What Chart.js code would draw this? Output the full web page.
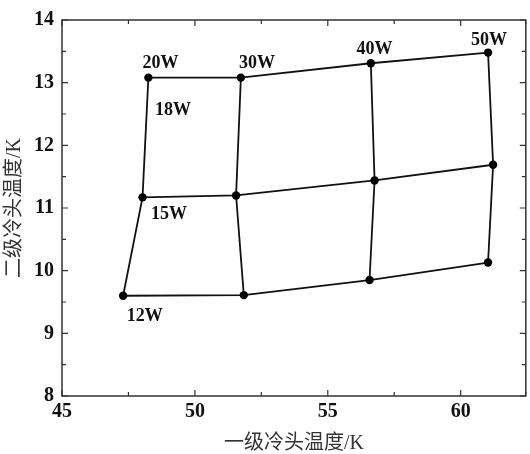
<!DOCTYPE html>
<html>
<head>
<meta charset="utf-8">
<script src="https://cdn.jsdelivr.net/npm/chart.js@4.4.1/dist/chart.umd.min.js"></script>
<style>
  html, body { margin: 0; padding: 0; background: #fff; }
  #wrap { width: 530px; height: 454px; }
</style>
</head>
<body>
<div id="wrap"><canvas id="tempChart" width="530" height="454"></canvas></div>
<script>
// measured points, three rows of four (first-stage temp x, second-stage temp y)
const rowTopX = [48.25, 51.73, 56.62, 61.03];
const rowTopY = [13.08, 13.08, 13.31, 13.48];
const rowMidX = [48.03, 51.55, 56.76, 61.22];
const rowMidY = [11.17, 11.20, 11.44, 11.69];
const rowLowX = [47.30, 51.84, 56.57, 61.03];
const rowLowY = [9.60, 9.61, 9.85, 10.13];

// power labels and where they sit (data units)
const powerLabels = ['20W', '30W', '40W', '50W', '18W', '15W', '12W'];
const labelX = [48.71, 52.34, 56.76, 61.07, 49.18, 49.03, 48.11];
const labelY = [13.31, 13.31, 13.53, 13.67, 12.56, 10.90, 9.27];

const xTicks = [45, 50, 55, 60];
const yTicks = [8, 9, 10, 11, 12, 13, 14];

const serif = '"Liberation Serif", "Times New Roman", serif';
const cjk = '"Liberation Serif", "Noto Sans CJK SC", serif';

function toPoints(xs, ys) {
    return xs.map(function(x, i) { return { x: x, y: ys[i] }; });
}

const rows = [toPoints(rowTopX, rowTopY), toPoints(rowMidX, rowMidY), toPoints(rowLowX, rowLowY)];
const datasets = [];
rows.forEach(function(r) {
    datasets.push({
        data: r,
        borderColor: '#111',
        backgroundColor: '#000',
        borderWidth: 1.8,
        pointRadius: 4.2,
        pointBorderWidth: 0,
        showLine: true,
        tension: 0
    });
});
// columns, bottom to top
for (let c = 0; c < 4; c++) {
    datasets.push({
        data: [rows[2][c], rows[1][c], rows[0][c]],
        borderColor: '#111',
        borderWidth: 1.8,
        pointRadius: 0,
        showLine: true,
        tension: 0
    });
}

// frame, inward ticks on all sides, and point labels
const framePlugin = {
    id: 'frame',
    afterDraw: function(chart) {
        const ctx = chart.ctx;
        const a = chart.chartArea;
        const xs = chart.scales.x, ys = chart.scales.y;
        ctx.save();
        ctx.strokeStyle = '#333';
        ctx.lineWidth = 1.5;
        ctx.strokeRect(a.left, a.top, a.right - a.left, a.bottom - a.top);
        ctx.lineWidth = 1.2;
        ctx.beginPath();
        xs.ticks.forEach(function(t) {
            const px = xs.getPixelForValue(t.value);
            const len = xTicks.includes(t.value) ? 6 : 4;
            ctx.moveTo(px, a.bottom); ctx.lineTo(px, a.bottom - len);
            ctx.moveTo(px, a.top); ctx.lineTo(px, a.top + len);
        });
        ys.ticks.forEach(function(t) {
            const py = ys.getPixelForValue(t.value);
            const len = yTicks.includes(t.value) ? 6 : 4;
            ctx.moveTo(a.left, py); ctx.lineTo(a.left + len, py);
            ctx.moveTo(a.right, py); ctx.lineTo(a.right - len, py);
        });
        ctx.stroke();

        ctx.fillStyle = '#111';
        ctx.font = 'bold 18px ' + serif;
        ctx.textAlign = 'center';
        ctx.textBaseline = 'middle';
        powerLabels.forEach(function(txt, i) {
            ctx.fillText(txt, xs.getPixelForValue(labelX[i]), ys.getPixelForValue(labelY[i]));
        });
        ctx.restore();
    }
};

new Chart(document.getElementById('tempChart').getContext('2d'), {
    type: 'scatter',
    data: { datasets: datasets },
    options: {
        responsive: false,
        animation: false,
        layout: { padding: { top: 19, right: 0, left: 0, bottom: 0 } },
        plugins: { legend: { display: false }, tooltip: { enabled: false } },
        scales: {
            x: {
                type: 'linear',
                min: 45,
                max: 62.45,
                afterFit: function(s) { s.height = 58; s.paddingRight = 2; s.paddingLeft = 0; },
                afterBuildTicks: function(s) {
                    s.ticks = [45, 47.5, 50, 52.5, 55, 57.5, 60, 62.45].map(function(v) { return { value: v }; });
                },
                ticks: {
                    autoSkip: false,
                    maxRotation: 0,
                    padding: 4,
                    color: '#111',
                    font: { family: serif, size: 20, weight: 'bold' },
                    callback: function(v) { return xTicks.includes(v) ? String(v) : ''; }
                },
                grid: { drawOnChartArea: false, drawTicks: false },
                border: { display: false },
                title: {
                    display: true,
                    text: '一级冷头温度/K',
                    color: '#333',
                    font: { family: cjk, size: 20, lineHeight: 1 },
                    padding: { top: 0, bottom: 0 }
                }
            },
            y: {
                type: 'linear',
                min: 8,
                max: 14,
                afterFit: function(s) { s.width = 62; },
                ticks: {
                    stepSize: 0.5,
                    autoSkip: false,
                    padding: 8,
                    color: '#111',
                    font: { family: serif, size: 20, weight: 'bold' },
                    callback: function(v) { return yTicks.includes(v) ? String(v) : ''; }
                },
                grid: { drawOnChartArea: false, drawTicks: false },
                border: { display: false },
                title: {
                    display: true,
                    text: '二级冷头温度/K',
                    color: '#333',
                    font: { family: cjk, size: 20, lineHeight: 1 },
                    padding: { top: 5, bottom: 0 }
                }
            }
        }
    },
    plugins: [framePlugin]
});
</script>
</body>
</html>
